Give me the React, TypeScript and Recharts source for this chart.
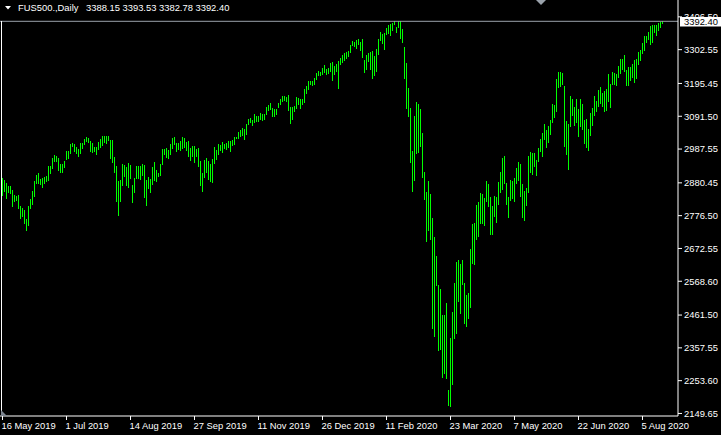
import React from 'react';
import { ComposedChart, Bar, XAxis, YAxis, ReferenceLine } from 'recharts';

// Daily highs (one per weekday bar, 16 May 2019 onward)
const highs: number[] = [
  2896, 2890, 2879, 2871, 2870, 2858, 2843, 2838, 2842, 2807,
  2801, 2793, 2766, 2807, 2829, 2855, 2886, 2904, 2912, 2892,
  2896, 2900, 2902, 2933, 2934, 2959, 2969, 2965, 2959, 2941,
  2939, 2950, 2981, 2981, 3004, 3007, 3004, 2994, 2988, 3007,
  3007, 3019, 3026, 3022, 3012, 3008, 2994, 2993, 3010, 3019,
  3029, 3029, 3029, 3029, 3016, 3016, 2963, 2934, 2886, 2890,
  2941, 2937, 2930, 2943, 2937, 2874, 2896, 2934, 2934, 2934,
  2940, 2937, 2890, 2899, 2893, 2931, 2947, 2922, 2913, 2941,
  2988, 2988, 2991, 2985,
  3004, 3023, 3026, 3006, 3008, 3013, 3026, 3022, 3011, 3013,
  2992, 2997, 2997, 2988, 2992, 2950, 2911, 2953, 2958, 2950,
  2939, 2955, 2994, 2985, 3004, 2999, 3010, 3004, 3008, 3012,
  3013, 3017, 3026, 3027, 3042, 3047, 3054, 3050, 3066, 3084,
  3086, 3080, 3099, 3092, 3092, 3102, 3099, 3099, 3120, 3126,
  3134, 3118, 3115, 3115, 3134, 3147, 3157, 3156, 3153, 3159,
  3121, 3122, 3124, 3153, 3149, 3145, 3146, 3178, 3187, 3203,
  3203, 3203, 3213, 3229, 3235, 3232, 3244, 3254, 3241, 3244,
  3260, 3263, 3251, 3257, 3267,
  3275, 3285, 3292, 3295, 3299, 3316, 3330, 3327, 3332, 3335,
  3328, 3336, 3271, 3286, 3293, 3295, 3298, 3282, 3305, 3337,
  3358, 3351, 3354, 3372, 3381, 3384, 3387, 3392, 3375, 3393,
  3393.5, 3368, 3311, 3260, 3181, 3118, 2981, 3092, 3137, 3130,
  3115, 3038, 2915, 2852, 2886, 2846, 2769, 2709, 2649, 2557,
  2544, 2463, 2463, 2500, 2225, 2390, 2471, 2563, 2630, 2636,
  2623, 2636, 2563, 2525, 2531, 2671, 2750, 2753, 2810, 2820,
  2849, 2846, 2833, 2886, 2878, 2837, 2808, 2840, 2836, 2884,
  2915, 2960, 2967, 2881, 2836,
  2890, 2887, 2895, 2927, 2946, 2940, 2877, 2855, 2864, 2966,
  2978, 2974, 2974, 2953, 2990, 3019, 3038, 3066, 3048, 3061,
  3080, 3130, 3127, 3210, 3232, 3232, 3229, 3187, 3076, 3067,
  3156, 3146, 3121, 3146, 3115, 3146, 3130, 3080, 3083, 3051,
  3102, 3118, 3156, 3140, 3175, 3184, 3165, 3172, 3178, 3226,
  3194, 3232, 3230, 3225, 3251, 3273, 3273, 3286, 3238, 3248,
  3248, 3257, 3270, 3273, 3295, 3301, 3324, 3346, 3346, 3358,
  3378, 3381, 3381, 3381, 3386, 3390, 3393.53,
];

// Daily lows
const lows: number[] = [
  2840, 2852, 2830, 2847, 2845, 2805, 2819, 2823, 2799, 2765,
  2773, 2750, 2729, 2744, 2798, 2811, 2836, 2877, 2877, 2873,
  2864, 2878, 2883, 2885, 2909, 2924, 2946, 2947, 2917, 2911,
  2912, 2927, 2954, 2957, 2971, 2993, 2978, 2972, 2962, 2971,
  2989, 3000, 3010, 3007, 2978, 2974, 2978, 2970, 2985, 2992,
  2998, 3007, 3004, 3013, 2957, 2942, 2911, 2821, 2775, 2820,
  2870, 2898, 2870, 2863, 2892, 2818, 2848, 2892, 2894, 2890,
  2903, 2833, 2808, 2860, 2849, 2875, 2885, 2884, 2900, 2901,
  2936, 2968, 2960, 2957,
  2970, 2989, 3000, 2979, 2985, 2980, 2988, 2991, 2980, 2963,
  2951, 2963, 2944, 2961, 2932, 2871, 2852, 2897, 2912, 2890,
  2884, 2881, 2940, 2953, 2968, 2982, 2974, 2987, 2985, 2992,
  2979, 2998, 3000, 3019, 3020, 3026, 3029, 3017, 3032, 3063,
  3069, 3062, 3069, 3072, 3072, 3080, 3076, 3080, 3096, 3109,
  3111, 3089, 3090, 3095, 3118, 3128, 3138, 3140, 3137, 3109,
  3068, 3081, 3105, 3115, 3128, 3115, 3127, 3134, 3161, 3175,
  3192, 3188, 3192, 3206, 3219, 3219, 3222, 3229, 3222, 3225,
  3232, 3204, 3223, 3233, 3179,
  3254, 3259, 3268, 3274, 3278, 3292, 3315, 3312, 3305, 3318,
  3299, 3277, 3230, 3237, 3263, 3238, 3211, 3220, 3233, 3287,
  3330, 3320, 3301, 3348, 3351, 3347, 3363, 3381, 3354, 3370,
  3335, 3324, 3211, 3115, 3090, 2943, 2852, 2887, 2973, 2976,
  2994, 2897, 2827, 2694, 2729, 2700, 2418, 2393, 2555, 2349,
  2352, 2263, 2276, 2260, 2174, 2171, 2241, 2387, 2402, 2504,
  2466, 2558, 2434, 2425, 2450, 2485, 2624, 2621, 2700, 2710,
  2751, 2751, 2745, 2821, 2805, 2716, 2716, 2773, 2754, 2811,
  2849, 2859, 2878, 2811, 2770,
  2824, 2830, 2821, 2878, 2887, 2837, 2770, 2760, 2807, 2848,
  2912, 2905, 2931, 2902, 2947, 2978, 2962, 3016, 2992, 3007,
  3032, 3071, 3087, 3106, 3182, 3184, 3191, 2995, 2969, 2921,
  3057, 3092, 3061, 3071, 3026, 3057, 3048, 3004, 2992, 2982,
  3029, 3061, 3092, 3105, 3121, 3130, 3121, 3105, 3109, 3137,
  3118, 3191, 3190, 3187, 3214, 3225, 3238, 3232, 3187, 3188,
  3204, 3214, 3197, 3210, 3254, 3267, 3289, 3298, 3324, 3333,
  3318, 3324, 3356, 3346, 3362, 3371, 3382.78,
];

const dateLabels: string[] = [
  '16 May 2019', '1 Jul 2019', '14 Aug 2019', '27 Sep 2019', '11 Nov 2019',
  '26 Dec 2019', '11 Feb 2020', '23 Mar 2020', '7 May 2020', '22 Jun 2020', '5 Aug 2020',
];
const barsPerLabel = 32;

const priceTicks: number[] = [
  2149.65, 2253.6, 2357.55, 2461.5, 2568.6, 2672.55, 2776.5,
  2880.45, 2987.55, 3091.5, 3195.45, 3302.55, 3406.5,
];

const symbolName = 'FUS500.,Daily';
const lastOpen = 3388.15;
const lastClose = 3392.4;

const data = highs.map((h, i) => ({ i, range: [lows[i], h] }));
const tickIdx = dateLabels.map((_, k) => k * barsPerLabel);

const FONT = "'Liberation Sans', Arial, sans-serif";
const FS = 9.4;

const BarShape = (props: any) => {
  const { x, y, width, height } = props;
  const cx = x + width / 2;
  const top = Math.min(y, y + height);
  const h = Math.max(Math.abs(height), 1);
  return <rect x={Math.round(cx - 0.5)} y={top} width={1} height={h} fill="#00ff00" shapeRendering="crispEdges" />;
};

const XTick = (props: any) => {
  const { x, y, payload } = props;
  const k = Math.round(payload.value / barsPerLabel);
  return (
    <text x={x - 1} y={y} dy="0.71em" fill="#ffffff" fontSize={FS} fontFamily={FONT} textAnchor="start">
      {dateLabels[k]}
    </text>
  );
};

export default function App() {
  const n = highs.length;
  return (
    <div style={{ position: 'absolute', left: 0, top: 0, width: 721, height: 435, background: '#000', overflow: 'hidden' }}>
      <ComposedChart width={721} height={435} data={data} margin={{ top: 0, right: 0, bottom: 0, left: 0 }}>
        <XAxis
          type="number"
          dataKey="i"
          domain={[-1.25, 337.75]}
          allowDataOverflow
          ticks={tickIdx}
          interval={0}
          height={19}
          tickSize={4}
          tickMargin={2}
          axisLine={{ stroke: '#ffffff' }}
          tickLine={{ stroke: '#ffffff' }}
          tick={<XTick />}
        />
        <YAxis
          type="number"
          orientation="right"
          width={43}
          domain={[2141.6, 3459.9]}
          allowDataOverflow
          ticks={priceTicks}
          interval={0}
          tickFormatter={(v: number) => v.toFixed(2)}
          tickSize={4}
          tickMargin={2}
          axisLine={{ stroke: '#ffffff' }}
          tickLine={{ stroke: '#ffffff' }}
          tick={{ fill: '#ffffff', fontSize: FS, fontFamily: FONT }}
        />
        <ReferenceLine y={lastClose} stroke="#9aa2ab" strokeWidth={1} ifOverflow="extendDomain" />
        <Bar dataKey="range" barSize={1} isAnimationActive={false} shape={BarShape} />
      </ComposedChart>
      <svg width={721} height={435} style={{ position: 'absolute', left: 0, top: 0, pointerEvents: 'none' }}>
        <rect x={1} y={21} width={1} height={395} fill="#ffffff" />
        <polygon points="5,6 11,6 8,9.5" fill="#ffffff" />
        <text x={18} y={11} fill="#ffffff" fontSize={FS} fontFamily={FONT}>{symbolName}</text>
        <text x={86} y={11} fill="#ffffff" fontSize={FS} fontFamily={FONT}>
          {`${lastOpen.toFixed(2)} ${highs[n - 1].toFixed(2)} ${lows[n - 1].toFixed(2)} ${lastClose.toFixed(2)}`}
        </text>
        <polygon points="536,0 546,0 541,5" fill="#9aa2ab" />
        <polygon points="1,410 1,416 7,416" fill="#7d8590" />
        <rect x={680} y={17} width={41} height={9.5} fill="#ffffff" />
        <text x={684} y={25} fill="#000000" fontSize={FS} fontFamily={FONT}>{lastClose.toFixed(2)}</text>
      </svg>
    </div>
  );
}
